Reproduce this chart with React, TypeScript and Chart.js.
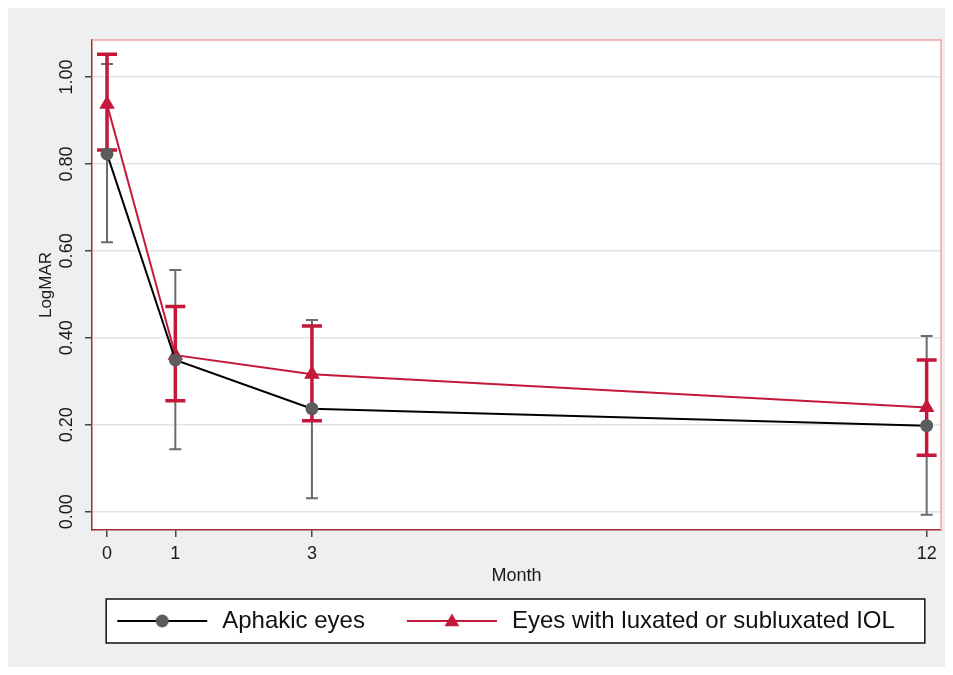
import { useEffect, useRef } from "react";
import { Chart, registerables } from "chart.js";

Chart.register(...registerables);

const months = [0, 1, 3, 12];
const xTicks = [0, 1, 3, 12];
const yTicks = [0, 0.2, 0.4, 0.6, 0.8, 1.0];
const seriesNames = ["Aphakic eyes", "Eyes with luxated or subluxated IOL"];

const aphakicMean = [0.823, 0.349, 0.237, 0.198];
const aphakicUpper = [1.03, 0.556, 0.441, 0.404];
const aphakicLower = [0.62, 0.144, 0.031, -0.007];

const iolMean = [0.937, 0.36, 0.316, 0.24];
const iolUpper = [1.052, 0.472, 0.427, 0.349];
const iolLower = [0.832, 0.255, 0.209, 0.13];

const FONT = "'Liberation Sans', Arial, Helvetica, sans-serif";
const RED = "#c4183a";
const GREY_MARK = "#5c5c5c";

function makeSymbol(w: number, start: number, lineColor: string, markColor: string, shape: string) {
  const c = document.createElement("canvas");
  c.width = w;
  c.height = 24;
  const g = c.getContext("2d")!;
  g.strokeStyle = lineColor;
  g.lineWidth = 2;
  g.beginPath();
  g.moveTo(start, 12);
  g.lineTo(start + 90, 12);
  g.stroke();
  g.fillStyle = markColor;
  const cx = start + 45;
  g.beginPath();
  if (shape === "circle") {
    g.arc(cx, 12, 6.5, 0, Math.PI * 2);
  } else {
    const r = 8.5;
    for (let k = 0; k < 3; k++) {
      const a = (k * 2 * Math.PI) / 3;
      const px = cx + Math.sin(a) * r;
      const py = 13 - Math.cos(a) * r;
      if (k === 0) g.moveTo(px, py);
      else g.lineTo(px, py);
    }
    g.closePath();
  }
  g.fill();
  return c;
}

export default function App() {
  const ref = useRef<HTMLCanvasElement>(null);

  useEffect(() => {
    if (!ref.current) return;
    const symbols = [
      makeSymbol(116, 23, "#000000", GREY_MARK, "circle"),
      makeSymbol(116, 23, RED, RED, "triangle"),
    ];

    const frame = {
      id: "frame",
      afterLayout(chart: any) {
        const lg = chart.legend;
        if (lg) {
          lg.left -= 22;
          lg.right -= 22;
        }
      },
      beforeDraw(chart: any) {
        const { ctx, chartArea: a, width, height } = chart;
        ctx.save();
        ctx.fillStyle = "#efefef";
        ctx.fillRect(0, 0, width, height);
        ctx.fillStyle = "#ffffff";
        ctx.fillRect(a.left, a.top, a.right - a.left, a.bottom - a.top);
        const hb = chart.legend && chart.legend.legendHitBoxes;
        if (hb && hb.length) {
          const first = hb[0];
          const last = hb[hb.length - 1];
          const l = first.left + 12;
          const r = last.left + last.width + 30;
          const cy = first.top + 12;
          ctx.fillStyle = "#ffffff";
          ctx.fillRect(l, cy - 22, r - l, 44);
          ctx.strokeStyle = "#111111";
          ctx.lineWidth = 1.5;
          ctx.strokeRect(l, cy - 22, r - l, 44);
        }
        ctx.restore();
      },
      beforeDatasetsDraw(chart: any) {
        const { ctx, chartArea: a } = chart;
        const xs = chart.scales.x;
        const ys = chart.scales.y;
        ctx.save();
        ctx.strokeStyle = "#f3a3a3";
        ctx.lineWidth = 1.5;
        ctx.beginPath();
        ctx.moveTo(a.left, a.top);
        ctx.lineTo(a.right, a.top);
        ctx.lineTo(a.right, a.bottom);
        ctx.stroke();
        const groups = [
          { lo: aphakicLower, hi: aphakicUpper, color: "#6b6b6b", w: 2, cap: 6 },
          { lo: iolLower, hi: iolUpper, color: RED, w: 3.5, cap: 10 },
        ];
        groups.forEach((gr) => {
          ctx.strokeStyle = gr.color;
          ctx.lineWidth = gr.w;
          months.forEach((m, i) => {
            const px = xs.getPixelForValue(m);
            const p1 = ys.getPixelForValue(gr.lo[i]);
            const p2 = ys.getPixelForValue(gr.hi[i]);
            ctx.beginPath();
            ctx.moveTo(px, p1);
            ctx.lineTo(px, p2);
            ctx.moveTo(px - gr.cap, p1);
            ctx.lineTo(px + gr.cap, p1);
            ctx.moveTo(px - gr.cap, p2);
            ctx.lineTo(px + gr.cap, p2);
            ctx.stroke();
          });
        });
        ctx.restore();
      },
    };

    const chart = new Chart(ref.current, {
      type: "line",
      data: {
        datasets: [
          {
            label: seriesNames[0],
            data: months.map((m, i) => ({ x: m, y: aphakicMean[i] })),
            borderColor: "#000000",
            borderWidth: 2,
            pointStyle: "circle",
            pointRadius: 6.5,
            pointBackgroundColor: GREY_MARK,
            pointBorderWidth: 0,
            tension: 0,
          },
          {
            label: seriesNames[1],
            data: months.map((m, i) => ({ x: m, y: iolMean[i] })),
            borderColor: RED,
            borderWidth: 2,
            pointStyle: "triangle",
            pointRadius: 9,
            pointBackgroundColor: RED,
            pointBorderWidth: 0,
            tension: 0,
          },
        ],
      },
      options: {
        responsive: false,
        animation: false,
        events: [],
        layout: { padding: { top: 32, right: 9, bottom: 32, left: 0 } },
        scales: {
          x: {
            type: "linear",
            min: -0.22,
            max: 12.21,
            afterBuildTicks: (s: any) => {
              s.ticks = xTicks.map((v) => ({ value: v }));
            },
            afterFit: (s: any) => {
              s.height = 60;
            },
            ticks: {
              padding: 6,
              color: "#1a1a1a",
              font: { family: FONT, size: 18 },
              maxRotation: 0,
              callback: (v: any) => String(v),
            },
            grid: {
              drawOnChartArea: false,
              drawTicks: true,
              tickLength: 7,
              tickColor: "#444444",
              lineWidth: 1.5,
            },
            border: { color: "#a32d2d", width: 1.5 },
            title: {
              display: true,
              text: "Month",
              color: "#1a1a1a",
              font: { family: FONT, size: 18 },
              padding: { top: 0, bottom: 3 },
            },
          },
          y: {
            type: "linear",
            min: -0.042,
            max: 1.085,
            afterBuildTicks: (s: any) => {
              s.ticks = yTicks.map((v) => ({ value: v }));
            },
            afterFit: (s: any) => {
              s.width = 84;
            },
            ticks: {
              minRotation: 90,
              maxRotation: 90,
              crossAlign: "center",
              padding: 0,
              color: "#1a1a1a",
              font: { family: FONT, size: 18 },
              callback: (v: any) => Number(v).toFixed(2),
            },
            grid: {
              color: "#e4e4e4",
              lineWidth: 1.5,
              drawTicks: true,
              tickLength: 7,
              tickColor: "#444444",
            },
            border: { color: "#a32d2d", width: 1.5 },
            title: {
              display: true,
              text: "LogMAR",
              color: "#1a1a1a",
              font: { family: FONT, size: 17 },
              padding: { top: 28, bottom: 0 },
            },
          },
        },
        plugins: {
          tooltip: { enabled: false },
          legend: {
            display: true,
            position: "bottom",
            fullSize: false,
            labels: {
              usePointStyle: true,
              pointStyleWidth: 116,
              padding: 19,
              color: "#111111",
              font: { family: FONT, size: 24 },
              generateLabels: (c: any) => {
                const items = (Chart.defaults.plugins.legend.labels as any).generateLabels(c);
                items.forEach((it: any, i: number) => {
                  it.pointStyle = symbols[i];
                });
                return items;
              },
            },
          },
        },
      },
      plugins: [frame],
    } as any);

    return () => chart.destroy();
  }, []);

  return (
    <canvas
      ref={ref}
      width={942}
      height={667}
      style={{ display: "block", width: 942, height: 667, marginBottom: -8 }}
    />
  );
}
